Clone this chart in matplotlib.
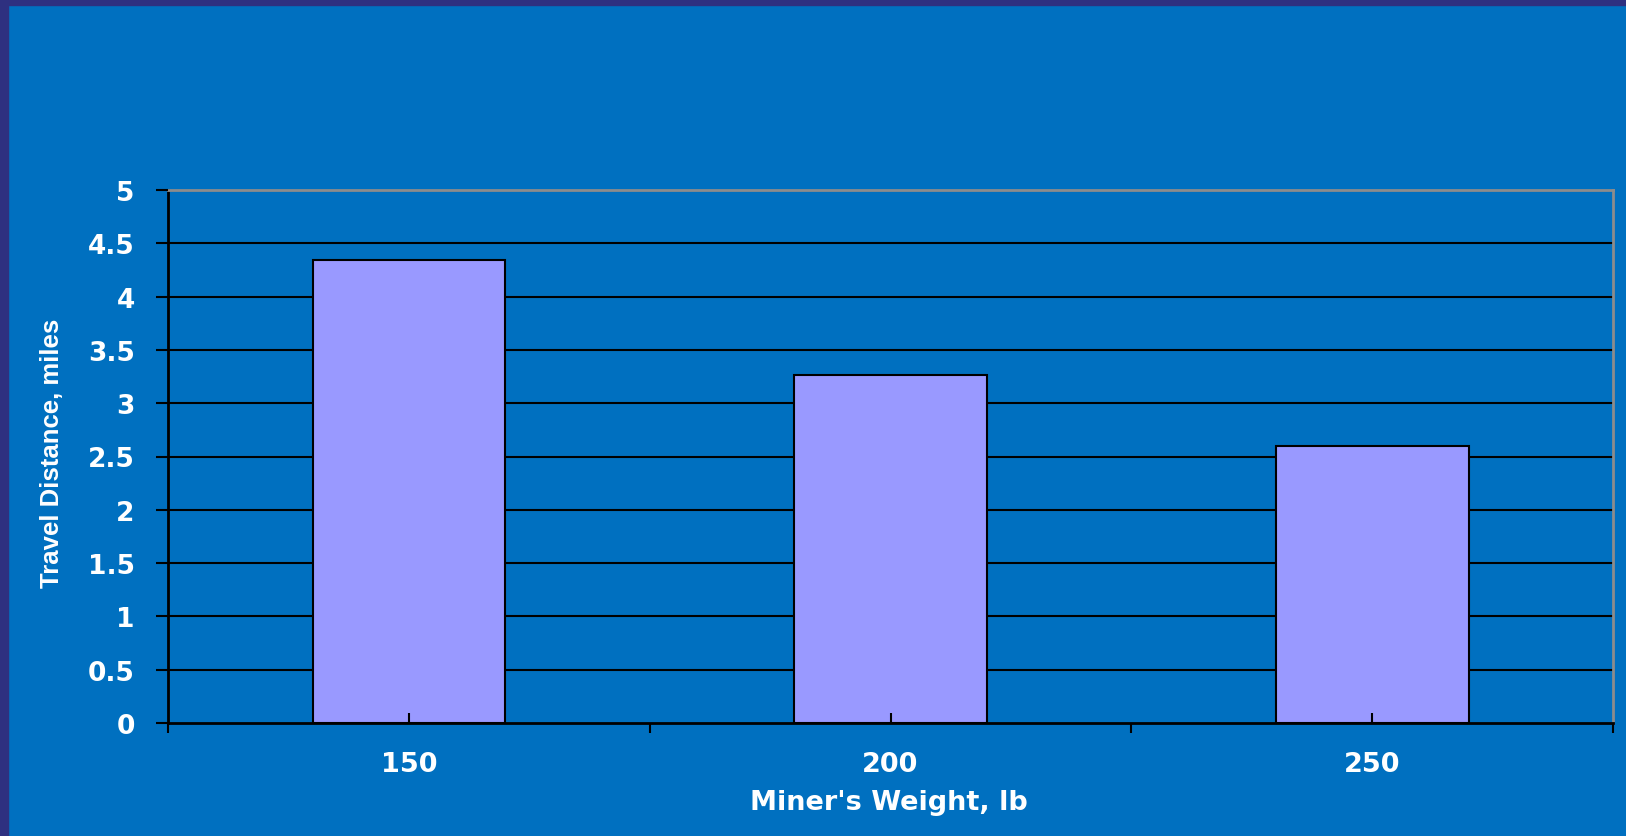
import matplotlib.pyplot as plt
from matplotlib.patches import Rectangle

# data
weights = ['150', '200', '250']
distance = [4.34, 3.26, 2.60]
yticks = [0, 0.5, 1, 1.5, 2, 2.5, 3, 3.5, 4, 4.5, 5]

bg = '#0070C0'
frame = '#2E3080'
bar_col = '#9999FF'

W, H = 1626, 837
fig = plt.figure(figsize=(W / 100, H / 100), dpi=100)
fig.patch.set_facecolor(bg)

# dark frame on left and top
fig.patches.append(Rectangle((0, 0), 8 / W, 1, transform=fig.transFigure, color=frame, zorder=0))
fig.patches.append(Rectangle((0, 1 - 6 / H), 1, 6 / H, transform=fig.transFigure, color=frame, zorder=0))

left, right, top, bottom = 168, 1613, 191, 724
ax = fig.add_axes([left / W, 1 - bottom / H, (right - left) / W, (bottom - top) / H])
ax.set_facecolor(bg)

x = list(range(len(weights)))
ax.bar(x, distance, width=0.40, color=bar_col, edgecolor='black', linewidth=1.5, zorder=2)

for v in yticks[1:-1]:
    ax.axhline(v, color='black', linewidth=1.5, zorder=0.5)

ax.set_xlim(-0.5, len(weights) - 0.5)
ax.set_ylim(0, 5)
ax.set_axisbelow(False)

ax.set_yticks(yticks)
ax.set_yticklabels([f'{v:g}' for v in yticks])
ax.set_xticks(x)
ax.set_xticklabels(weights)
ax.set_xticks([i - 0.5 for i in range(len(weights) + 1)], minor=True)

ax.tick_params(axis='y', direction='out', length=9, width=1.5, color='black', pad=15,
               labelsize=19, labelcolor='white')
ax.tick_params(axis='x', which='major', direction='in', length=7, width=1.5, color='black', pad=20,
               labelsize=19.5, labelcolor='white')
ax.tick_params(axis='x', which='minor', direction='out', length=7, width=1.5, color='black')
for lab in ax.get_xticklabels() + ax.get_yticklabels():
    lab.set_fontfamily('DejaVu Sans')
    lab.set_fontweight('bold')

for s in ['left', 'bottom']:
    ax.spines[s].set_color('black')
    ax.spines[s].set_linewidth(2)
for s in ['top', 'right']:
    ax.spines[s].set_color('#8C8C8C')
    ax.spines[s].set_linewidth(2)

fig.text(889 / W, 1 - 803 / H, "Miner's Weight, lb", ha='center', va='center', color='white',
         fontsize=19.5, fontweight='bold', family='DejaVu Sans')
fig.text(52 / W, 1 - 453 / H, 'Travel Distance, miles', ha='center', va='center', rotation=90,
         color='white', fontsize=18.5, fontweight='bold', family='Liberation Sans')

fig.savefig('out.png', dpi=100, facecolor=bg)
